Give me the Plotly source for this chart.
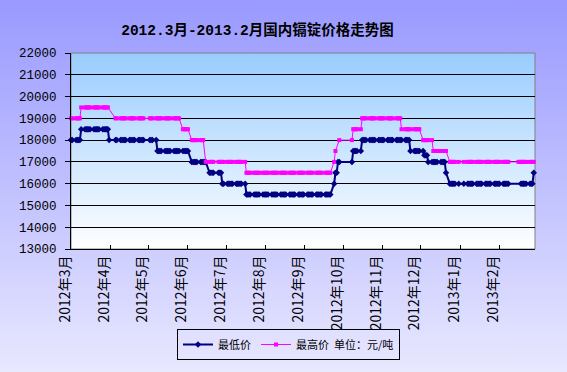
import base64
import plotly.graph_objects as go

# ---------------- data ----------------
dates = (
    ["2012-03-%02d" % d for d in [1, 2, 5, 6, 7, 8, 9, 12, 13, 14, 15, 16, 19, 20, 21, 22, 23, 26, 27, 28, 29, 30, 31]]
    + ["2012-04-%02d" % d for d in [5, 6, 9, 10, 11, 12, 13, 16, 17, 18, 19, 20, 23, 24, 25, 26, 27]]
    + ["2012-05-%02d" % d for d in [2, 3, 4, 7, 8, 9, 10, 11, 14, 15, 16, 17, 18, 21, 22, 23, 24, 25, 28, 29, 30, 31]]
    + ["2012-06-%02d" % d for d in [1, 4, 5, 6, 7, 8, 11, 12, 13, 14, 15, 18, 19, 20, 21, 25, 26, 27, 28, 29]]
    + ["2012-07-%02d" % d for d in [2, 3, 4, 5, 6, 9, 10, 11, 12, 13, 16, 17, 18, 19, 20, 23, 24, 25, 26, 27, 30, 31]]
    + ["2012-08-%02d" % d for d in [1, 2, 3, 6, 7, 8, 9, 10, 13, 14, 15, 16, 17, 20, 21, 22, 23, 24, 27, 28, 29, 30, 31]]
    + ["2012-09-%02d" % d for d in [3, 4, 5, 6, 7, 10, 11, 12, 13, 14, 17, 18, 19, 20, 21, 24, 25, 26, 27, 28]]
    + ["2012-10-%02d" % d for d in [8, 9, 10, 11, 12, 15, 16, 17, 18, 19, 22, 23, 24, 25, 26, 29, 30, 31]]
    + ["2012-11-%02d" % d for d in [1, 2, 5, 6, 7, 8, 9, 12, 13, 14, 15, 16, 19, 20, 21, 22, 23, 26, 27, 28, 29, 30]]
    + ["2012-12-%02d" % d for d in [3, 4, 5, 6, 7, 10, 11, 12, 13, 14, 17, 18, 19, 20, 21, 24, 25, 26, 27, 28, 31]]
    + ["2013-01-%02d" % d for d in [4, 7, 8, 9, 10, 11, 14, 15, 16, 17, 18, 21, 22, 23, 24, 25, 28, 29, 30, 31]]
    + ["2013-02-%02d" % d for d in [1, 4, 5, 6, 7, 8, 16, 17, 18, 19, 20, 21, 22, 25, 26, 27, 28]]
)

low_price = [
    # Mar 2012
    18000, 18000, 18000, 18000, 18000, 18000, 18500, 18500, 18500, 18500, 18500, 18500,
    18500, 18500, 18500, 18500, 18500, 18500, 18500, 18500, 18500, 18500, 18000,
    # Apr
    18000, 18000, 18000, 18000, 18000, 18000, 18000, 18000, 18000, 18000, 18000, 18000,
    18000, 18000, 18000, 18000, 18000,
    # May
    18000, 18000, 18000, 18000, 17500, 17500, 17500, 17500, 17500, 17500, 17500, 17500,
    17500, 17500, 17500, 17500, 17500, 17500, 17500, 17500, 17500, 17500,
    # Jun
    17500, 17000, 17000, 17000, 17000, 17000, 17000, 17000, 17000, 17000, 17000, 16500,
    16500, 16500, 16500, 16500, 16500, 16500, 16000, 16000,
    # Jul
    16000, 16000, 16000, 16000, 16000, 16000, 16000, 16000, 16000, 16000, 16000, 15500,
    15500, 15500, 15500, 15500, 15500, 15500, 15500, 15500, 15500, 15500,
    # Aug
    15500, 15500, 15500, 15500, 15500, 15500, 15500, 15500, 15500, 15500, 15500, 15500,
    15500, 15500, 15500, 15500, 15500, 15500, 15500, 15500, 15500, 15500, 15500,
    # Sep
    15500, 15500, 15500, 15500, 15500, 15500, 15500, 15500, 15500, 15500, 15500, 15500,
    15500, 15500, 15500, 16000, 16500, 16500, 17000, 17000,
    # Oct
    17000, 17500, 17500, 17500, 17500, 17500, 18000, 18000, 18000, 18000, 18000, 18000,
    18000, 18000, 18000, 18000, 18000, 18000,
    # Nov
    18000, 18000, 18000, 18000, 18000, 18000, 18000, 18000, 18000, 18000, 18000, 18000,
    18000, 18000, 18000, 18000, 17500, 17500, 17500, 17500, 17500, 17500,
    # Dec
    17500, 17300, 17300, 17300, 17000, 17000, 17000, 17000, 17000, 17000, 17000, 17000,
    17000, 17000, 16500, 16000, 16000, 16000, 16000, 16000, 16000,
    # Jan 2013
    16000, 16000, 16000, 16000, 16000, 16000, 16000, 16000, 16000, 16000, 16000, 16000,
    16000, 16000, 16000, 16000, 16000, 16000, 16000, 16000,
    # Feb
    16000, 16000, 16000, 16000, 16000, 16000, None, None, 16000, 16000, 16000, 16000,
    16000, 16000, 16000, 16000, 16500,
]

high_price = [
    # Mar 2012
    19000, 19000, 19000, 19000, 19000, 19000, 19500, 19500, 19500, 19500, 19500, 19500,
    19500, 19500, 19500, 19500, 19500, 19500, 19500, 19500, 19500, 19500, None,
    # Apr
    19000, 19000, 19000, 19000, 19000, 19000, 19000, 19000, 19000, 19000, 19000, 19000,
    19000, 19000, 19000, 19000, 19000,
    # May
    19000, 19000, 19000, 19000, 19000, 19000, 19000, 19000, 19000, 19000, 19000, 19000,
    19000, 19000, 19000, 19000, 19000, 19000, 18500, 18500, 18500, 18500,
    # Jun
    18500, 18000, 18000, 18000, 18000, 18000, 18000, 18000, 18000, None, 17000, 17000,
    17000, 17000, 17000, 17000, 17000, 17000, 17000, 17000,
    # Jul
    17000, 17000, 17000, 17000, 17000, 17000, 17000, 17000, 17000, 17000, 17000, 16500,
    16500, 16500, 16500, 16500, 16500, 16500, 16500, 16500, 16500, 16500,
    # Aug
    16500, 16500, 16500, 16500, 16500, 16500, 16500, 16500, 16500, 16500, 16500, 16500,
    16500, 16500, 16500, 16500, 16500, 16500, 16500, 16500, 16500, 16500, 16500,
    # Sep
    16500, 16500, 16500, 16500, 16500, 16500, 16500, 16500, 16500, 16500, 16500, 16500,
    16500, 16500, 16500, 17000, 17500, None, None, 18000,
    # Oct
    18000, 18500, 18500, 18500, 18500, 18500, 19000, 19000, 19000, 19000, 19000, 19000,
    19000, 19000, 19000, 19000, 19000, 19000,
    # Nov
    19000, 19000, 19000, 19000, 19000, 19000, 19000, 19000, 19000, 19000, 19000, 18500,
    18500, 18500, 18500, 18500, 18500, 18500, 18500, 18500, 18500, 18500,
    # Dec
    18000, 18000, 18000, 18000, 18000, 18000, 17500, 17500, 17500, 17500, 17500, 17500,
    17500, 17500, 17500, 17000, 17000, 17000, 17000, 17000, 17000,
    # Jan 2013
    17000, 17000, 17000, 17000, 17000, 17000, 17000, 17000, 17000, 17000, 17000, 17000,
    17000, 17000, 17000, 17000, 17000, 17000, 17000, 17000,
    # Feb
    17000, 17000, 17000, 17000, 17000, 17000, 17000, 17000, 17000, 17000, 17000, 17000,
    17000, 17000, 17000, 17000, 17000,
]

tick_dates = ["2012-03-01", "2012-04-01", "2012-05-01", "2012-06-01", "2012-07-01", "2012-08-01",
              "2012-09-01", "2012-10-01", "2012-11-01", "2012-12-01", "2013-01-01", "2013-02-01"]
tick_labels = ["2012年3月", "2012年4月", "2012年5月", "2012年6月", "2012年7月", "2012年8月",
               "2012年9月", "2012年10月", "2012年11月", "2012年12月", "2013年1月", "2013年2月"]
y_ticks = [13000, 14000, 15000, 16000, 17000, 18000, 19000, 20000, 21000, 22000]
y_labels = ["13000", "14000", "15000", "16000", "17000", "18000", "19000", "20000", "21000", "22000"]

series_names = ["最低价", "最高价  单位：元/吨"]
title_text = "2012.3月-2013.2月国内镉锭价格走势图"

# ---------------- layout ----------------
W, H = 567, 372
L, R, T, B = 71, 32, 53, 123
PW, PH = W - L - R, H - T - B


def grad(c1, c2):
    svg = ('<svg xmlns="http://www.w3.org/2000/svg" width="100" height="100" viewBox="0 0 100 100" '
           'preserveAspectRatio="none"><defs><linearGradient id="g" x1="0" y1="0" x2="0" y2="1">'
           '<stop offset="0" stop-color="%s"/><stop offset="1" stop-color="%s"/></linearGradient></defs>'
           '<rect x="0" y="0" width="100" height="100" fill="url(#g)"/></svg>') % (c1, c2)
    return "data:image/svg+xml;base64," + base64.b64encode(svg.encode()).decode()


fig = go.Figure()
fig.add_trace(go.Scatter(
    x=dates, y=low_price, name=series_names[0], mode="lines+markers",
    line=dict(color="#000080", width=2), connectgaps=True, cliponaxis=False,
    marker=dict(symbol="diamond", size=5, color="#000080"),
))
fig.add_trace(go.Scatter(
    x=dates, y=high_price, name=series_names[1], mode="lines+markers",
    line=dict(color="#FF00FF", width=1), connectgaps=True, cliponaxis=False,
    marker=dict(symbol="square", size=4, color="#FF00FF"),
))

fig.update_layout(
    width=W, height=H,
    margin=dict(l=L, r=R, t=T, b=B),
    paper_bgcolor="#C8C8FF",
    plot_bgcolor="rgba(0,0,0,0)",
    title=dict(text=title_text, x=257.5 / W, xanchor="center", y=1 - 30 / H, yanchor="middle",
               xref="container", yref="container",
               font=dict(family="Liberation Mono, Noto Sans CJK SC", size=14.5, color="black", weight=700)),
    images=[
        dict(source=grad("#9999FF", "#E8E8FF"), xref="paper", yref="paper",
             x=-L / PW, y=1 + T / PH, sizex=W / PW, sizey=H / PH,
             xanchor="left", yanchor="top", sizing="stretch", layer="below"),
        dict(source=grad("#99CCFF", "#FFFFFF"), xref="paper", yref="paper",
             x=0, y=1, sizex=1, sizey=1,
             xanchor="left", yanchor="top", sizing="stretch", layer="below"),
    ],
    shapes=[dict(type="rect", xref="paper", yref="paper", x0=0, x1=1, y0=0, y1=1,
                 line=dict(color="#808080", width=1), layer="below")],
    xaxis=dict(
        type="date", range=["2012-03-01", "2013-03-01"],
        tickmode="array", tickvals=tick_dates, ticktext=tick_labels,
        tickangle=-90, ticks="inside", ticklen=4, tickcolor="black",
        ticklabelshift=-6,
        tickfont=dict(family="Noto Sans CJK SC", size=14, color="black"),
        showline=True, linecolor="black", linewidth=1, showgrid=False, zeroline=False,
    ),
    yaxis=dict(
        range=[13000, 22000], tickmode="array", tickvals=y_ticks, ticktext=y_labels,
        ticks="outside", ticklen=5, tickcolor="black", ticklabelstandoff=6,
        tickfont=dict(family="Liberation Mono", size=12.5, color="black"),
        showline=True, linecolor="black", linewidth=1,
        showgrid=True, gridcolor="black", gridwidth=1, zeroline=False,
    ),
    legend=dict(
        orientation="h", x=(288.5 - L) / PW, xanchor="center", y=(249 - 329) / PH, yanchor="top",
        bordercolor="black", borderwidth=1, bgcolor="rgba(0,0,0,0)",
        font=dict(family="Noto Sans CJK SC", size=11, color="black"),
        itemwidth=30, tracegroupgap=0,
    ),
    showlegend=True,
)

fig.write_html("out.html", config={"displayModeBar": False},
               post_script="document.body.style.margin='0px';document.body.style.padding='0px';")
